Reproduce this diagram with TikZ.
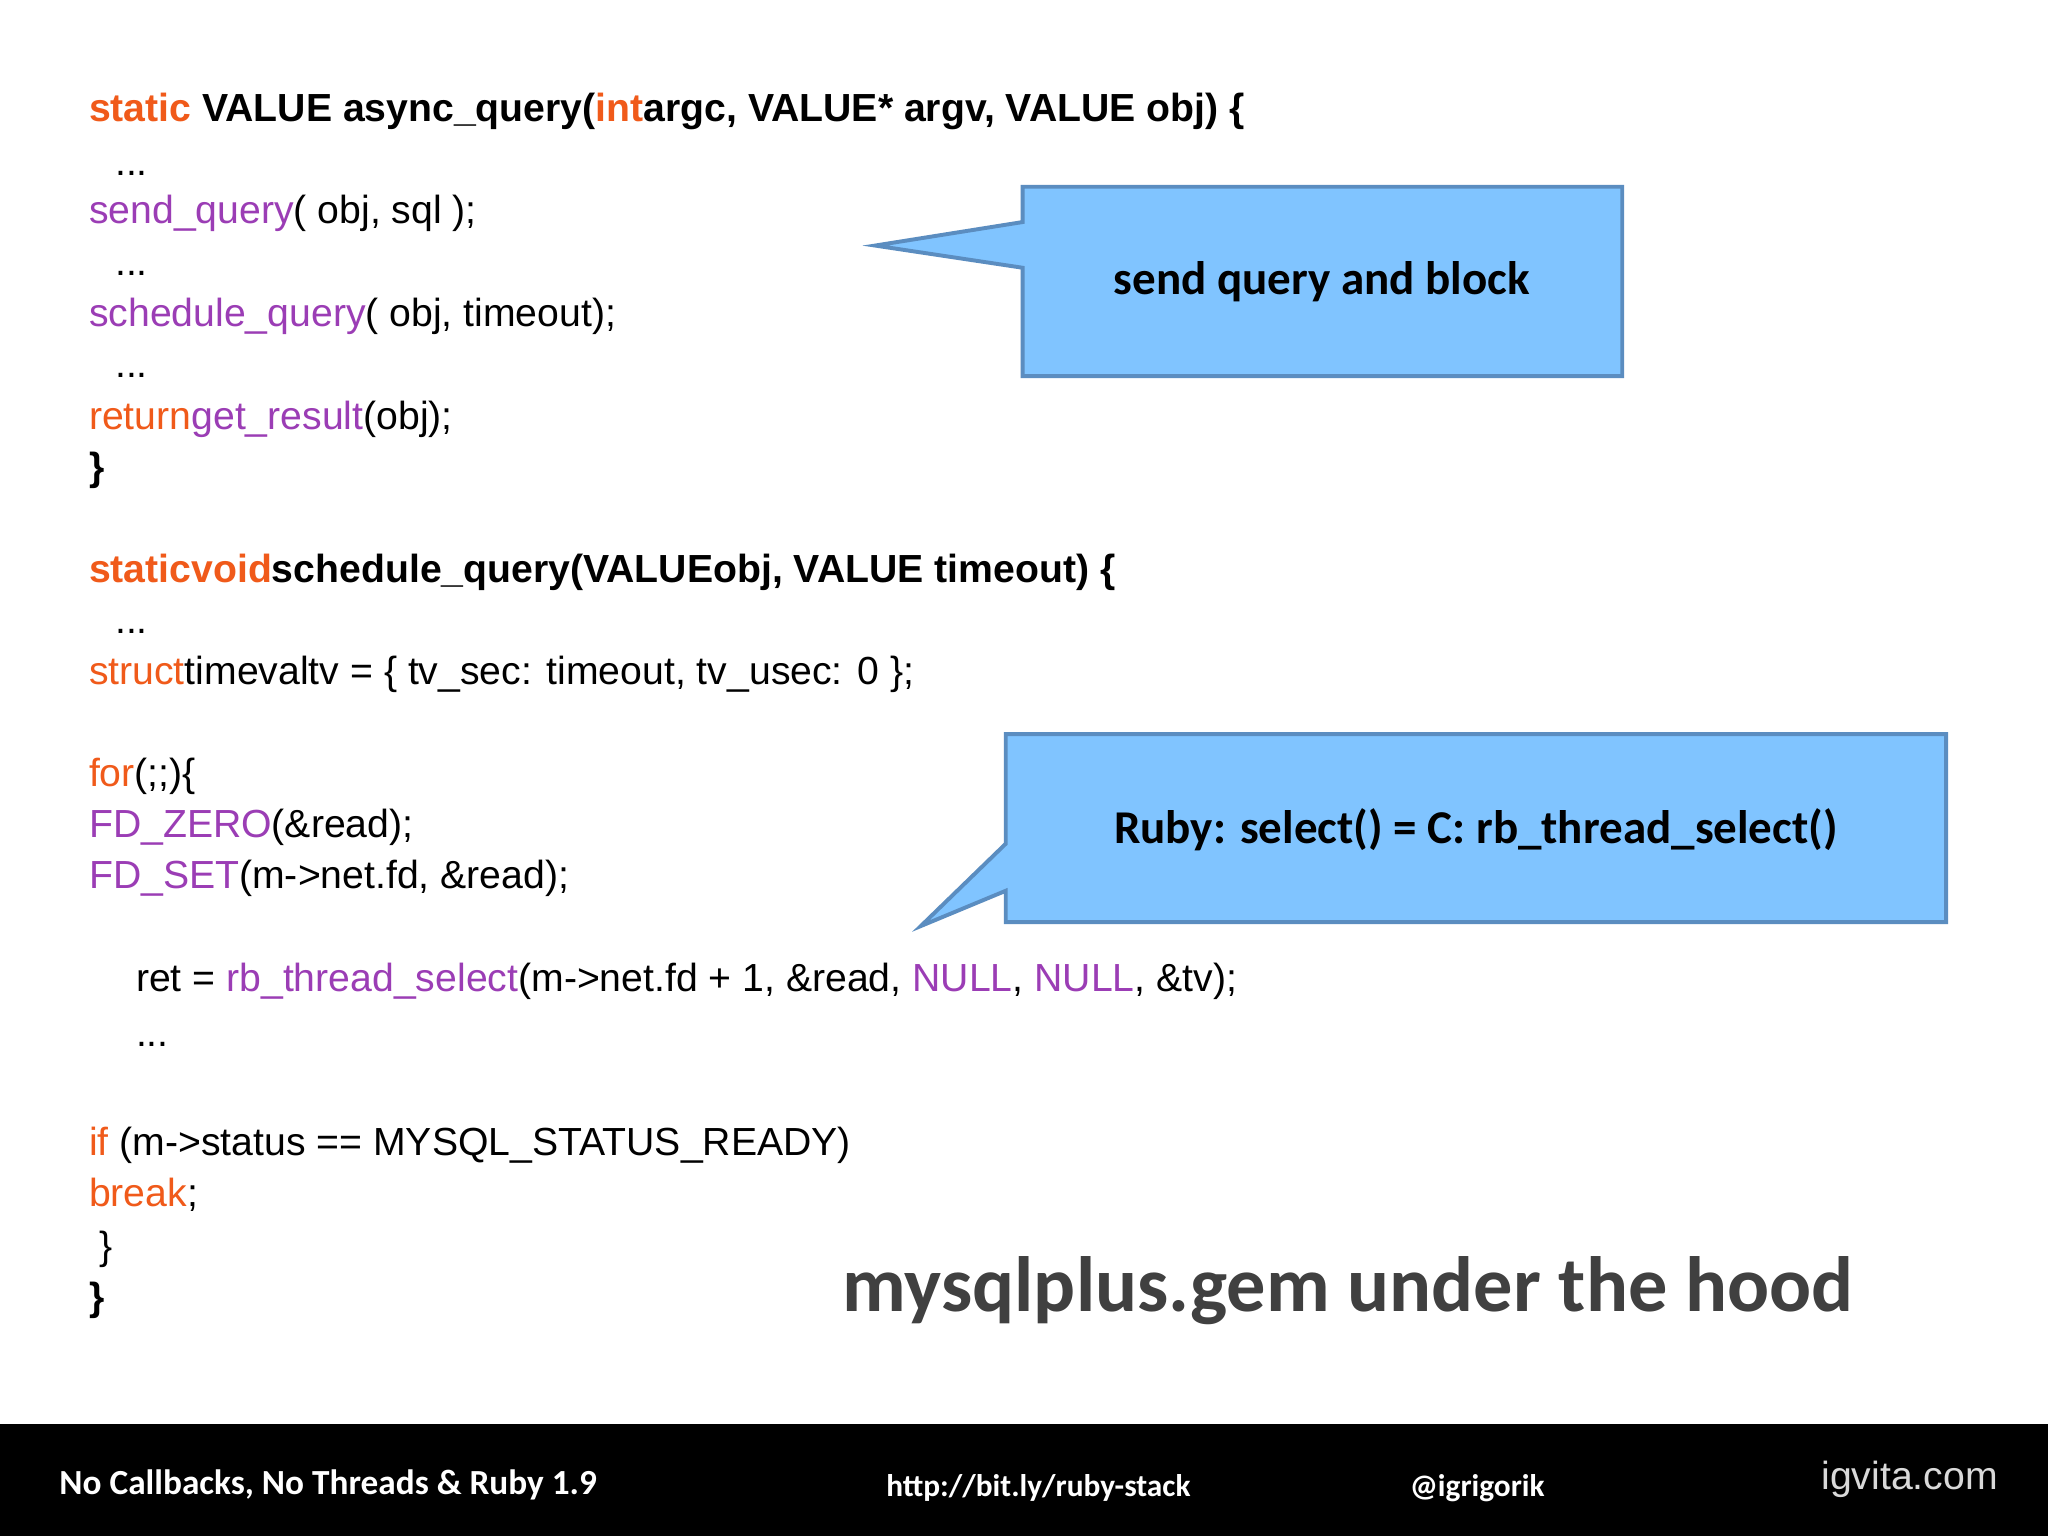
\documentclass[tikz,border=0pt]{standalone}
\usepackage{fontspec}
\setmainfont{Liberation Sans}
\newfontfamily\calibri{Carlito}
\definecolor{kw}{HTML}{F05A1A}
\definecolor{fn}{HTML}{9B3DB5}
\definecolor{boxfill}{HTML}{80C4FF}
\definecolor{boxline}{HTML}{5B8DC0}
\definecolor{titlegray}{HTML}{404040}
\newcommand{\K}[1]{\textcolor{kw}{#1}}
\newcommand{\F}[1]{\textcolor{fn}{#1}}
\begin{document}
\begin{tikzpicture}[x=1pt,y=-1pt,
    code/.style={anchor=base west, inner sep=0pt, font=\fontsize{30}{30}\selectfont},
    codeb/.style={code, font=\fontsize{30}{30}\selectfont\bfseries},
    callout/.style={fill=boxfill, draw=boxline, line width=3pt},
    calltext/.style={font=\calibri\fontsize{36}{36}\selectfont\bfseries},
    foot/.style={text=white, font=\calibri\fontsize{27}{27}\selectfont\bfseries}
]
\useasboundingbox (0,0) rectangle (1568,1176);
\fill[white] (0,0) rectangle (1568,1090);
\fill[black] (0,1090) rectangle (1568,1176);

% first function
\node[codeb] (l1) at (68,93) {\K{static} VALUE async\_query(\K{int}argc, VALUE* argv, VALUE obj) \{};
\node[code] (l2) at (88,134) {...};
\node[code] (l3) at (68,171) {\F{send\_query}( obj, sql );};
\node[code] (l4) at (88,211) {...};
\node[code] (l5) at (68,250) {\F{schedule\_query}( obj, timeout);};
\node[code] (l6) at (88,289) {...};
\node[code] (l7) at (68,329) {\K{return}\F{get\_result}(obj);};
\node[codeb] (l8) at (68,368) {\}};

% second function
\node[codeb] (m1) at (68,446) {\K{staticvoid}schedule\_query(VALUEobj, VALUE timeout) \{};
\node[code] (m2) at (88,485) {...};
\node[code] (m3) at (68,524) {\K{struct}timevaltv = \{ tv\_sec: timeout, tv\_usec: 0 \};};
\node[code] (m4) at (68,602) {\K{for}(;;)\{};
\node[code] (m5) at (68,641) {\F{FD\_ZERO}(\&read);};
\node[code] (m6) at (68,680) {\F{FD\_SET}(m->net.fd, \&read);};
\node[code] (m7) at (104,759) {ret = \F{rb\_thread\_select}(m->net.fd + 1, \&read, \F{NULL}, \F{NULL}, \&tv);};
\node[code] (m8) at (104,801) {...};
\node[code] (m9) at (68,885) {\K{if} (m->status == MYSQL\_STATUS\_READY)};
\node[code] (m10) at (68,924) {\K{break};};
\node[code] (m11) at (76,964) {\}};
\node[codeb] (m12) at (68,1003) {\}};

% callouts
\draw[callout] (783,143) -- (1242,143) -- (1242,288) -- (783,288) -- (783,205) -- (670,188) -- (783,170) -- cycle;
\node[calltext] (c1) at (1012,216) {send query and block};
\draw[callout] (770,562) -- (1490,562) -- (1490,706) -- (770,706) -- (770,682) -- (705,709) -- (770,646) -- cycle;
\node[calltext] (c2) at (1130,635) {Ruby: select() = C: rb\_thread\_select()};

\node[font=\calibri\fontsize{60}{60}\selectfont\bfseries, text=titlegray] (title) at (1032,988) {mysqlplus.gem under the hood};

% footer
\node[foot, anchor=west] (f1) at (42,1137) {No Callbacks, No Threads \& Ruby 1.9};
\node[foot, font=\calibri\fontsize{24}{24}\selectfont\bfseries] (f2) at (795,1139) {http://bit.ly/ruby-stack};
\node[foot, font=\calibri\fontsize{24}{24}\selectfont\bfseries] (f3) at (1131,1139) {@igrigorik};
\node[text=white!85!black, font=\fontsize{30}{30}\selectfont] (f4) at (1462,1133) {igvita.com};
\end{tikzpicture}
\end{document}
